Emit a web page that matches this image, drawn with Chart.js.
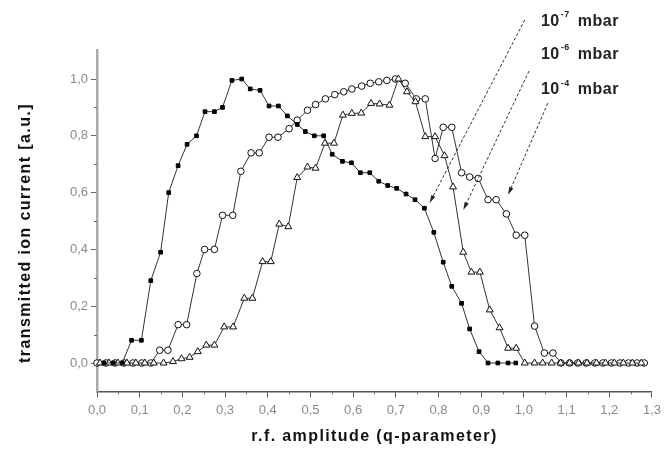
<!DOCTYPE html>
<html>
<head>
<meta charset="utf-8">
<script src="https://cdn.jsdelivr.net/npm/chart.js@4"></script>
<style>
  html, body { margin: 0; padding: 0; background: #fff; }
</style>
</head>
<body>
<canvas id="chart" width="666" height="454"></canvas>
<script>
// 10^-7 mbar (filled squares)
const sqQ = [0.016, 0.038, 0.059, 0.081, 0.104, 0.126, 0.149, 0.168, 0.190, 0.211, 0.233, 0.253, 0.275, 0.294,
    0.316, 0.339, 0.359, 0.382, 0.403, 0.425, 0.446, 0.469, 0.488, 0.509, 0.531, 0.551, 0.575, 0.596, 0.617,
    0.639, 0.660, 0.681, 0.702, 0.724, 0.745, 0.767, 0.789, 0.811, 0.831, 0.854, 0.873, 0.895, 0.916, 0.939,
    0.963, 0.981];
const sqI = [0, 0, 0, 0.08, 0.08, 0.29, 0.39, 0.60, 0.695, 0.77, 0.80, 0.885, 0.885, 0.90,
    0.995, 1.0, 0.965, 0.96, 0.905, 0.905, 0.87, 0.84, 0.815, 0.80, 0.80, 0.735, 0.71, 0.705, 0.67,
    0.67, 0.64, 0.625, 0.615, 0.595, 0.575, 0.545, 0.46, 0.355, 0.27, 0.21, 0.12, 0.04, 0.0, 0,
    0, 0];

// 10^-6 mbar (open triangles)
const trQ = [0.007, 0.028, 0.049, 0.070, 0.091, 0.112, 0.133, 0.156, 0.178, 0.198, 0.217, 0.236, 0.256, 0.275,
    0.298, 0.319, 0.345, 0.364, 0.388, 0.407, 0.427, 0.448, 0.469, 0.493, 0.512, 0.534, 0.555, 0.576,
    0.597, 0.619, 0.642, 0.662, 0.685, 0.706, 0.726, 0.746, 0.769, 0.792, 0.814, 0.834, 0.858, 0.877,
    0.897, 0.920, 0.943, 0.963, 0.982, 1.002, 1.025, 1.044, 1.065, 1.086, 1.107, 1.128, 1.148, 1.170,
    1.191, 1.212, 1.233, 1.254, 1.275];
const trI = [0, 0, 0, 0, 0, 0, 0, 0, 0.005, 0.015, 0.02, 0.04, 0.063, 0.063,
    0.127, 0.127, 0.228, 0.228, 0.357, 0.357, 0.489, 0.48, 0.653, 0.69, 0.686, 0.774, 0.774, 0.873,
    0.879, 0.88, 0.914, 0.912, 0.908, 1.0, 0.955, 0.92, 0.797, 0.797, 0.73, 0.62, 0.39, 0.32,
    0.32, 0.187, 0.124, 0.052, 0.052, 0, 0, 0, 0, 0, 0, 0, 0, 0,
    0, 0, 0, 0, 0];

// 10^-4 mbar (open circles)
const ciQ = [0.0, 0.021, 0.042, 0.063, 0.084, 0.105, 0.126, 0.147, 0.166, 0.190, 0.210, 0.234, 0.252, 0.275,
    0.294, 0.318, 0.337, 0.361, 0.380, 0.403, 0.424, 0.450, 0.469, 0.493, 0.512, 0.535, 0.557, 0.578,
    0.597, 0.620, 0.640, 0.660, 0.679, 0.699, 0.722, 0.748, 0.769, 0.792, 0.811, 0.831, 0.854, 0.873,
    0.893, 0.916, 0.935, 0.959, 0.982, 1.002, 1.025, 1.048, 1.068, 1.087, 1.107, 1.126, 1.146, 1.166,
    1.185, 1.205, 1.225, 1.245, 1.265, 1.282];
const ciI = [0, 0, 0, 0, 0, 0, 0, 0.045, 0.045, 0.135, 0.135, 0.315, 0.40, 0.40,
    0.52, 0.52, 0.675, 0.74, 0.74, 0.795, 0.795, 0.825, 0.855, 0.89, 0.91, 0.93, 0.945, 0.955,
    0.965, 0.975, 0.985, 0.99, 0.995, 1.0, 0.985, 0.93, 0.93, 0.72, 0.83, 0.83, 0.67, 0.655,
    0.65, 0.575, 0.575, 0.525, 0.45, 0.45, 0.13, 0.035, 0.035, 0, 0, 0, 0, 0,
    0, 0, 0, 0, 0, 0];

const yTickValues = [0, 0.2, 0.4, 0.6, 0.8, 1.0];
const xTickValues = [0, 0.1, 0.2, 0.3, 0.4, 0.5, 0.6, 0.7, 0.8, 0.9, 1.0, 1.1, 1.2, 1.3];
const pressureLabels = ['-7', '-6', '-4'];
const xTitle = 'r.f. amplitude (q-parameter)';
const yTitle = 'transmitted ion current [a.u.]';

const fontFamily = '"Liberation Sans", Arial, sans-serif';

function toPoints(qs, is) {
    return qs.map((q, i) => ({ x: q, y: is[i] }));
}

function commaLabel(v) {
    return v.toFixed(1).replace('.', ',');
}

// minor ticks halfway between the major ones
const minorTicks = {
    id: 'minorTicks',
    afterDraw(chart) {
        const ctx = chart.ctx;
        const xs = chart.scales.x, ys = chart.scales.y;
        ctx.save();
        ctx.strokeStyle = '#666';
        ctx.lineWidth = 1;
        ctx.beginPath();
        for (let i = 0; i < ys.ticks.length - 1; i++) {
            const py = Math.round(ys.getPixelForValue((ys.ticks[i].value + ys.ticks[i + 1].value) / 2)) + 0.5;
            ctx.moveTo(ys.right - 3, py);
            ctx.lineTo(ys.right, py);
        }
        for (let i = 0; i < xs.ticks.length - 1; i++) {
            const px = Math.round(xs.getPixelForValue((xs.ticks[i].value + xs.ticks[i + 1].value) / 2)) + 0.5;
            ctx.moveTo(px, xs.top);
            ctx.lineTo(px, xs.top + 3);
        }
        ctx.stroke();
        ctx.restore();
    }
};

// axis titles, drawn with a bit of letter spacing like the original
const axisTitles = {
    id: 'axisTitles',
    afterDraw(chart) {
        const ctx = chart.ctx;
        const area = chart.chartArea;
        ctx.save();
        ctx.fillStyle = '#111';
        ctx.font = 'bold 16px ' + fontFamily;
        ctx.letterSpacing = '1.4px';
        ctx.textAlign = 'center';
        ctx.textBaseline = 'middle';
        ctx.fillText(xTitle, (area.left + area.right) / 2, chart.height - 17);
        ctx.translate(26, (area.top + area.bottom) / 2 + 12);
        ctx.rotate(-Math.PI / 2);
        ctx.fillText(yTitle, 0, 0);
        ctx.restore();
    }
};

// pressure labels with arrows (positions in data units)
const arrowStart = [[1.002, 1.208], [1.012, 1.028], [1.056, 0.915]];
const arrowEnd = [[0.779, 0.563], [0.858, 0.539], [0.963, 0.592]];
const labelAt = [[1.040, 1.201], [1.040, 1.085], [1.040, 0.961]];

const pressureNotes = {
    id: 'pressureNotes',
    afterDraw(chart) {
        const ctx = chart.ctx;
        const xs = chart.scales.x, ys = chart.scales.y;
        ctx.save();
        ctx.strokeStyle = '#333';
        ctx.fillStyle = '#222';
        ctx.lineWidth = 1;
        arrowStart.forEach((s, i) => {
            const x0 = xs.getPixelForValue(s[0]), y0 = ys.getPixelForValue(s[1]);
            const x1 = xs.getPixelForValue(arrowEnd[i][0]), y1 = ys.getPixelForValue(arrowEnd[i][1]);
            const a = Math.atan2(y1 - y0, x1 - x0);
            ctx.setLineDash([3, 2]);
            ctx.beginPath();
            ctx.moveTo(x0, y0);
            ctx.lineTo(x1 - 5 * Math.cos(a), y1 - 5 * Math.sin(a));
            ctx.stroke();
            ctx.setLineDash([]);
            ctx.beginPath();
            ctx.moveTo(x1, y1);
            ctx.lineTo(x1 - 8 * Math.cos(a) + 2.2 * Math.sin(a), y1 - 8 * Math.sin(a) - 2.2 * Math.cos(a));
            ctx.lineTo(x1 - 8 * Math.cos(a) - 2.2 * Math.sin(a), y1 - 8 * Math.sin(a) + 2.2 * Math.cos(a));
            ctx.closePath();
            ctx.fill();
        });
        ctx.textBaseline = 'middle';
        ctx.textAlign = 'left';
        ctx.letterSpacing = '0.5px';
        labelAt.forEach((p, i) => {
            let x = xs.getPixelForValue(p[0]);
            const y = ys.getPixelForValue(p[1]);
            ctx.font = 'bold 16px ' + fontFamily;
            ctx.fillText('10', x, y);
            x += ctx.measureText('10').width + 1;
            ctx.font = 'bold 9px ' + fontFamily;
            ctx.fillText(pressureLabels[i], x, y - 7);
            x += ctx.measureText(pressureLabels[i]).width + 8;
            ctx.font = 'bold 16px ' + fontFamily;
            ctx.fillText('mbar', x, y);
        });
        ctx.restore();
    }
};

const lineColor = '#333';

new Chart(document.getElementById('chart'), {
    type: 'line',
    data: {
        datasets: [
            {
                label: '10^-7 mbar',
                data: toPoints(sqQ, sqI),
                borderColor: lineColor,
                borderWidth: 1,
                pointStyle: 'rect',
                pointRadius: 2.6,
                pointBackgroundColor: '#000',
                pointBorderColor: '#000',
                pointBorderWidth: 1
            },
            {
                label: '10^-6 mbar',
                data: toPoints(trQ, trI),
                borderColor: lineColor,
                borderWidth: 1,
                pointStyle: 'triangle',
                pointRadius: 4,
                pointBackgroundColor: '#fff',
                pointBorderColor: '#111',
                pointBorderWidth: 1
            },
            {
                label: '10^-4 mbar',
                data: toPoints(ciQ, ciI),
                borderColor: lineColor,
                borderWidth: 1,
                pointStyle: 'circle',
                pointRadius: 3.3,
                pointBackgroundColor: '#fff',
                pointBorderColor: '#111',
                pointBorderWidth: 1
            }
        ]
    },
    options: {
        responsive: false,
        animation: false,
        clip: false,
        layout: { padding: { left: 0, right: 11, top: 50.6, bottom: 0 } },
        elements: { line: { tension: 0, fill: false } },
        plugins: {
            legend: { display: false },
            tooltip: { enabled: false }
        },
        scales: {
            x: {
                type: 'linear',
                min: 0,
                max: 1.3,
                afterFit: (s) => { s.height = 62.6; },
                afterBuildTicks: (s) => { s.ticks = xTickValues.map(v => ({ value: v })); },
                border: { display: true, color: '#555', width: 1.5 },
                grid: { drawOnChartArea: false, drawTicks: true, tickLength: 6, tickColor: '#555' },
                ticks: {
                    maxRotation: 0,
                    autoSkip: false,
                    padding: 5,
                    color: '#8a8a8a',
                    font: { family: fontFamily, size: 13 },
                    callback: (v) => commaLabel(v)
                },
                title: { display: false }
            },
            y: {
                min: -0.1,
                max: 1.1,
                afterFit: (s) => { s.width = 97; },
                afterBuildTicks: (s) => { s.ticks = yTickValues.map(v => ({ value: v })); },
                border: { display: true, color: '#aaa', width: 2.5 },
                grid: { drawOnChartArea: false, drawTicks: true, tickLength: 6, tickColor: '#666' },
                ticks: {
                    padding: 3,
                    color: '#8a8a8a',
                    font: { family: fontFamily, size: 13 },
                    callback: (v) => commaLabel(v)
                },
                title: { display: false }
            }
        }
    },
    plugins: [minorTicks, axisTitles, pressureNotes]
});
</script>
</body>
</html>
